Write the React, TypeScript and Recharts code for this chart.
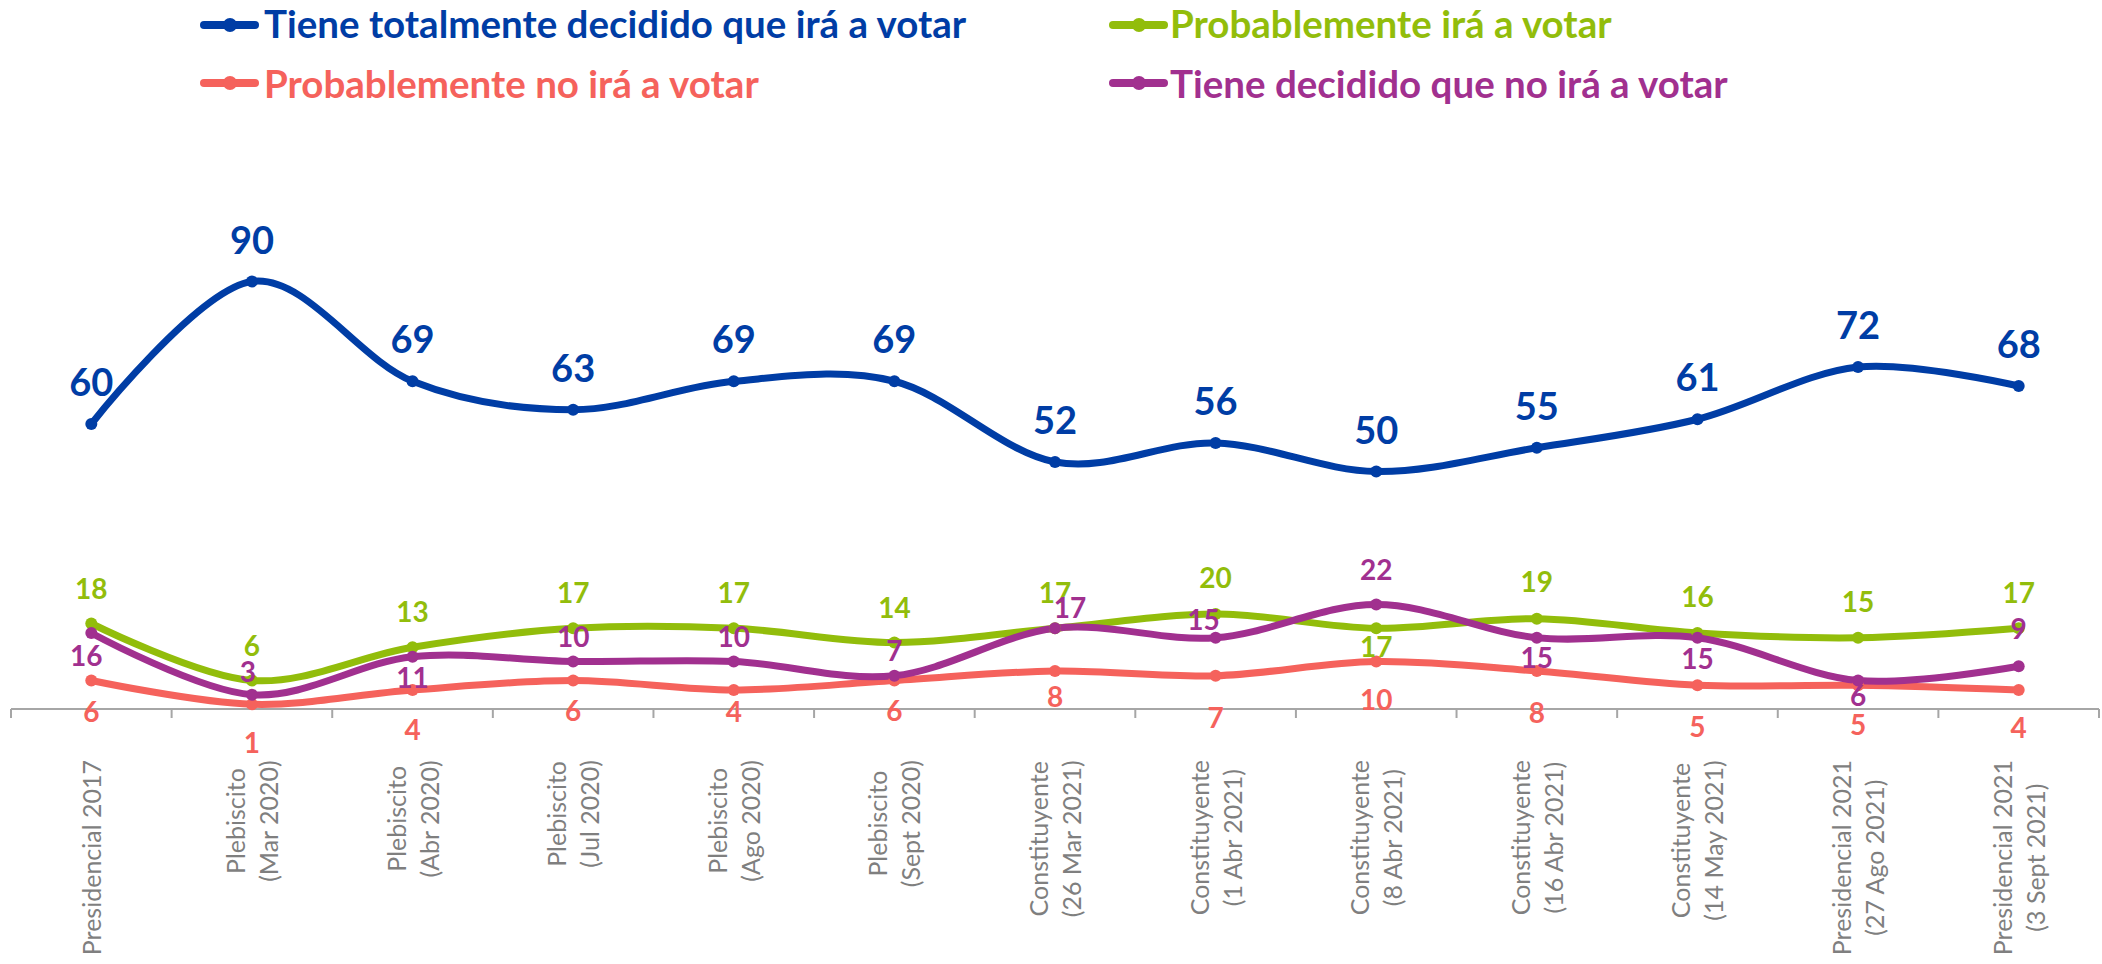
import React from 'react';
import { LineChart, Line, XAxis, YAxis, LabelList } from 'recharts';

// ---------- data ----------
const categories = [
  'Presidencial 2017',
  'Plebiscito\n(Mar 2020)',
  'Plebiscito\n(Abr 2020)',
  'Plebiscito\n(Jul 2020)',
  'Plebiscito\n(Ago 2020)',
  'Plebiscito\n(Sept 2020)',
  'Constituyente\n(26 Mar 2021)',
  'Constituyente\n(1 Abr 2021)',
  'Constituyente\n(8 Abr 2021)',
  'Constituyente\n(16 Abr 2021)',
  'Constituyente\n(14 May 2021)',
  'Presidencial 2021\n(27 Ago 2021)',
  'Presidencial 2021\n(3 Sept 2021)',
];
const totalmenteDecidido = [60, 90, 69, 63, 69, 69, 52, 56, 50, 55, 61, 72, 68];
const probablementeIra = [18, 6, 13, 17, 17, 14, 17, 20, 17, 19, 16, 15, 17];
const probablementeNoIra = [6, 1, 4, 6, 4, 6, 8, 7, 10, 8, 5, 5, 4];
const decididoNoIra = [16, 3, 11, 10, 10, 7, 17, 15, 22, 15, 15, 6, 9];

const seriesNames = [
  'Tiene totalmente decidido que irá a votar',
  'Probablemente irá a votar',
  'Probablemente no irá a votar',
  'Tiene decidido que no irá a votar',
];

// ---------- style ----------
const BLUE = '#003DA5';
const GREEN = '#92BD0B';
const RED = '#F5625C';
const PURPLE = '#A1308F';
const GRAY = '#7F7F7F';
const AXIS_GRAY = '#A6A6A6';
const FONT = 'Lato, "Open Sans", sans-serif';

const CHART_W = 2102;
const CHART_H = 964;
const M_LEFT = 11;
const M_RIGHT = 3;
const M_TOP = 234;
const AXIS_Y = 709;
const LABEL_TOP = 760;
const BAND = (CHART_W - M_LEFT - M_RIGHT) / categories.length;

// label vertical offsets (baseline relative to point)
const blueDy = [-28, -28, -28, -28, -28, -28, -28, -28, -28, -28, -28, -28, -28];
const greenDy = [-25, -25, -25, -25, -25, -25, -25, -26, 29, -27, -26, -26, -25];
const redDy = [41, 49, 50, 40, 32, 40, 36, 52, 48, 52, 52, 50, 48];
const purpleDy = [33, -13, 31, -15, -15, -15, -10, -8, -25, 30, 31, 25, -27];
const purpleDx = [-5, -4, 0, 0, 0, 0, 15, -12, 0, 0, 0, 0, 0];

const data = categories.map((name, i) => ({
  name,
  blue: totalmenteDecidido[i],
  green: probablementeIra[i],
  red: probablementeNoIra[i],
  purple: decididoNoIra[i],
}));

// Excel-like smoothed line (cardinal / Catmull-Rom style)
function excelSmooth(context: any) {
  const k = 1 / 6;
  let x0 = NaN, y0 = NaN, x1 = NaN, y1 = NaN, x2 = NaN, y2 = NaN, pt = 0;
  const seg = (x: number, y: number) => {
    context.bezierCurveTo(
      x1 + k * (x2 - x0),
      y1 + k * (y2 - y0),
      x2 + k * (x1 - x),
      y2 + k * (y1 - y),
      x2,
      y2
    );
  };
  return {
    areaStart() {},
    areaEnd() {},
    lineStart() {
      x0 = x1 = x2 = y0 = y1 = y2 = NaN;
      pt = 0;
    },
    lineEnd() {
      if (pt === 2) context.lineTo(x2, y2);
      else if (pt === 3) seg(x1, y1);
    },
    point(xx: number, yy: number) {
      const x = +xx;
      const y = +yy;
      if (pt === 0) {
        pt = 1;
        context.moveTo(x, y);
      } else if (pt === 1) {
        pt = 2;
        x1 = x;
        y1 = y;
      } else {
        pt = 3;
        seg(x, y);
      }
      x0 = x1; x1 = x2; x2 = x;
      y0 = y1; y1 = y2; y2 = y;
    },
  };
}

let measureCtx: any = null;
function measure(text: string, font: string): number {
  if (!measureCtx) measureCtx = document.createElement('canvas').getContext('2d');
  measureCtx.font = font;
  return measureCtx.measureText(text).width;
}

const TICK_FS = 25;

function AxisTick(props: any) {
  const { x, payload, index } = props;
  const lines = String(payload.value).split('\n');
  const w = Math.max(...lines.map((l) => measure(l, `${TICK_FS}px Lato`)));
  const cy = LABEL_TOP + w / 2;
  const baselines = lines.length === 1 ? [10] : [-7, 26];
  return (
    <g>
      <line x1={x - BAND / 2} x2={x - BAND / 2} y1={AXIS_Y} y2={AXIS_Y + 9} stroke={AXIS_GRAY} strokeWidth={2} />
      {index === categories.length - 1 && (
        <line x1={x + BAND / 2} x2={x + BAND / 2} y1={AXIS_Y} y2={AXIS_Y + 9} stroke={AXIS_GRAY} strokeWidth={2} />
      )}
      <text
        transform={`translate(${x},${cy}) rotate(-90)`}
        textAnchor="middle"
        fill={GRAY}
        fontFamily={FONT}
        fontSize={TICK_FS}
      >
        {lines.map((l, i) => (
          <tspan key={i} x={0} y={baselines[i]}>
            {l}
          </tspan>
        ))}
      </text>
    </g>
  );
}

function makeLabel(color: string, size: number, dys: number[], dxs?: number[]) {
  return (p: any) => {
    const { x, y, value, index } = p;
    if (x == null || y == null) return null;
    return (
      <text
        x={x + (dxs ? dxs[index] : 0)}
        y={y + dys[index]}
        textAnchor="middle"
        fill={color}
        fontFamily={FONT}
        fontWeight={700}
        fontSize={size}
      >
        {value}
      </text>
    );
  };
}

function Legend() {
  const items = [
    { name: seriesNames[0], color: BLUE, mx: 204, tx: 264, y: 25, by: 38 },
    { name: seriesNames[1], color: GREEN, mx: 1113, tx: 1170, y: 25, by: 38 },
    { name: seriesNames[2], color: RED, mx: 204, tx: 264, y: 83, by: 98 },
    { name: seriesNames[3], color: PURPLE, mx: 1113, tx: 1170, y: 83, by: 98 },
  ];
  return (
    <svg width={CHART_W} height={120} style={{ position: 'absolute', left: 0, top: 0, pointerEvents: 'none' }}>
      {items.map((it) => (
        <g key={it.name}>
          <line x1={it.mx} x2={it.mx + 51} y1={it.y} y2={it.y} stroke={it.color} strokeWidth={8} strokeLinecap="round" />
          <circle cx={it.mx + 26} cy={it.y} r={7} fill={it.color} />
          <text x={it.tx} y={it.by} fill={it.color} fontFamily={FONT} fontWeight={700} fontSize={38.5}>
            {it.name}
          </text>
        </g>
      ))}
    </svg>
  );
}

export default function App() {
  return (
    <div style={{ position: 'absolute', left: 0, top: 0, width: CHART_W, height: CHART_H, background: '#fff' }}>
      <LineChart
        width={CHART_W}
        height={CHART_H}
        data={data}
        margin={{ top: M_TOP, right: M_RIGHT, bottom: 0, left: M_LEFT }}
      >
        <XAxis
          dataKey="name"
          scale="band"
          interval={0}
          height={CHART_H - AXIS_Y}
          axisLine={{ stroke: AXIS_GRAY, strokeWidth: 2 }}
          tickLine={false}
          tick={<AxisTick />}
        />
        <YAxis hide domain={[0, 100]} />
        <Line
          dataKey="blue"
          name={seriesNames[0]}
          type={excelSmooth as any}
          stroke={BLUE}
          strokeWidth={7}
          dot={{ r: 6, fill: BLUE, stroke: BLUE, strokeWidth: 0 }}
          activeDot={false}
          isAnimationActive={false}
        >
          <LabelList dataKey="blue" content={makeLabel(BLUE, 38, blueDy)} />
        </Line>
        <Line
          dataKey="green"
          name={seriesNames[1]}
          type={excelSmooth as any}
          stroke={GREEN}
          strokeWidth={7}
          dot={{ r: 6, fill: GREEN, stroke: GREEN, strokeWidth: 0 }}
          activeDot={false}
          isAnimationActive={false}
        >
          <LabelList dataKey="green" content={makeLabel(GREEN, 28, greenDy)} />
        </Line>
        <Line
          dataKey="red"
          name={seriesNames[2]}
          type={excelSmooth as any}
          stroke={RED}
          strokeWidth={7}
          dot={{ r: 6, fill: RED, stroke: RED, strokeWidth: 0 }}
          activeDot={false}
          isAnimationActive={false}
        >
          <LabelList dataKey="red" content={makeLabel(RED, 28, redDy)} />
        </Line>
        <Line
          dataKey="purple"
          name={seriesNames[3]}
          type={excelSmooth as any}
          stroke={PURPLE}
          strokeWidth={7}
          dot={{ r: 6, fill: PURPLE, stroke: PURPLE, strokeWidth: 0 }}
          activeDot={false}
          isAnimationActive={false}
        >
          <LabelList dataKey="purple" content={makeLabel(PURPLE, 28, purpleDy, purpleDx)} />
        </Line>
      </LineChart>
      <Legend />
    </div>
  );
}
